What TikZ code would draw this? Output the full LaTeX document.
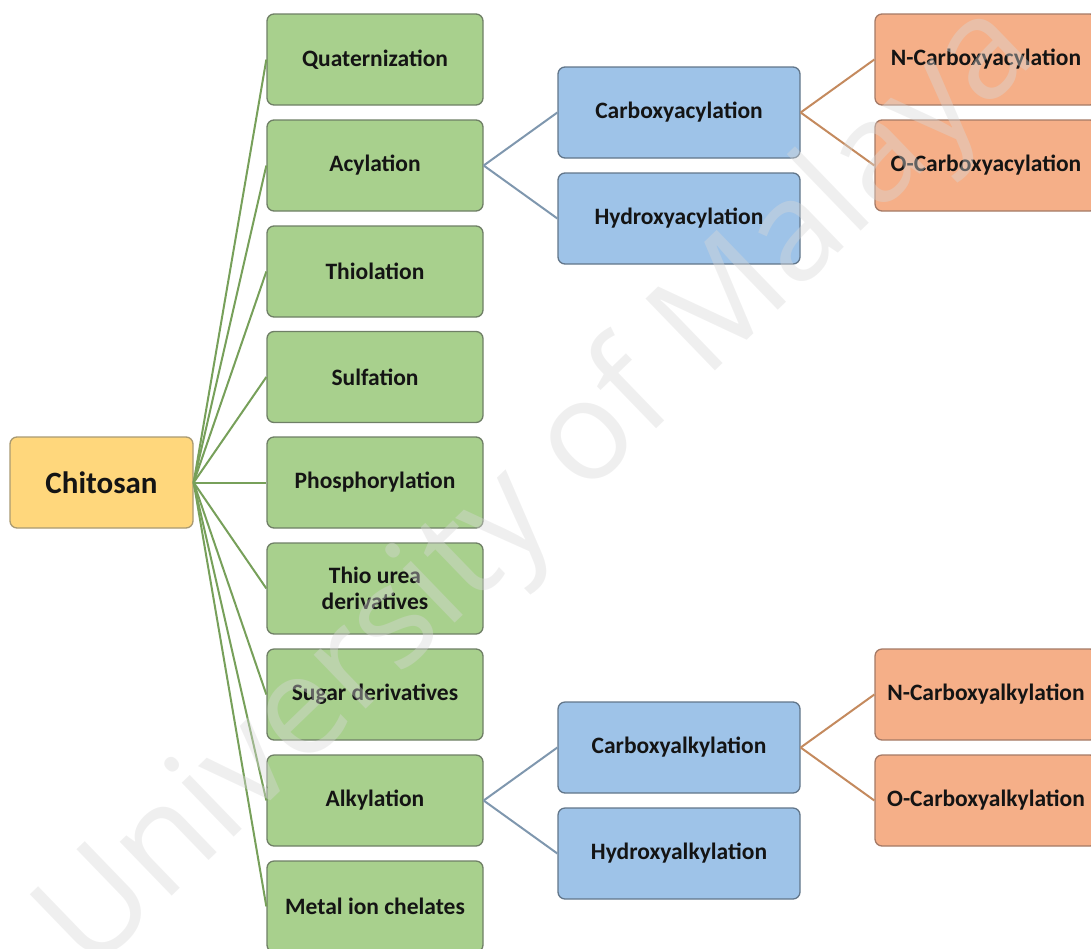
\documentclass[tikz,border=0pt]{standalone}
\usepackage{fontspec}
\setmainfont{Carlito}
\newfontfamily\wmfont{Open Sans}
\definecolor{gfill}{HTML}{A8D08D}
\definecolor{gdraw}{HTML}{6F7F66}
\definecolor{yfill}{HTML}{FFD77C}
\definecolor{ydraw}{HTML}{A99A72}
\definecolor{bfill}{HTML}{9EC3E8}
\definecolor{bdraw}{HTML}{62768A}
\definecolor{ofill}{HTML}{F5AF88}
\definecolor{odraw}{HTML}{A57A66}
\definecolor{gline}{HTML}{77A05A}
\definecolor{bline}{HTML}{7F97AE}
\definecolor{oline}{HTML}{C48A5E}
\definecolor{wmcol}{HTML}{D8D8D8}
\begin{document}
\begin{tikzpicture}[x=1pt,y=-1pt,
  box/.style={rectangle, rounded corners=7pt, line width=1.3pt, minimum height=91pt,
    align=center, inner sep=0pt, text=black!92,
    font=\fontsize{23.5}{25.5}\selectfont\bfseries},
  rootbox/.style={box, fill=yfill, draw=ydraw, minimum width=183pt,
    font=\fontsize{31}{34}\selectfont\bfseries},
  greenbox/.style={box, fill=gfill, draw=gdraw, minimum width=216pt},
  bluebox/.style={box, fill=bfill, draw=bdraw, minimum width=242pt},
  orangebox/.style={box, fill=ofill, draw=odraw, minimum width=222pt},
  gconn/.style={draw=gline, line width=2pt},
  bconn/.style={draw=bline, line width=2pt},
  oconn/.style={draw=oline, line width=2pt}
]
\useasboundingbox (0,0) rectangle (1091,948);
\clip (0,0) rectangle (1091,948);

\node[rootbox] (root) at (101.5,482.5) {Chitosan};

\node[greenbox] (g1) at (375,59.5) {Quaternization};
\node[greenbox] (g2) at (375,165.5) {Acylation};
\node[greenbox] (g3) at (375,271.5) {Thiolation};
\node[greenbox] (g4) at (375,377) {Sulfation};
\node[greenbox] (g5) at (375,482.5) {Phosphorylation};
\node[greenbox] (g6) at (375,588.5) {Thio urea\\derivatives};
\node[greenbox] (g7) at (375,694.5) {Sugar derivatives};
\node[greenbox] (g8) at (375,800.5) {Alkylation};
\node[greenbox] (g9) at (375,906.5) {Metal ion chelates};

\node[bluebox] (b1) at (679,112.5) {Carboxyacylation};
\node[bluebox] (b2) at (679,218.5) {Hydroxyacylation};
\node[bluebox] (b3) at (679,747.5) {Carboxyalkylation};
\node[bluebox] (b4) at (679,853.5) {Hydroxyalkylation};

\node[orangebox] (o1) at (986,59.5) {N-Carboxyacylation};
\node[orangebox] (o2) at (986,165.5) {O-Carboxyacylation};
\node[orangebox] (o3) at (986,694.5) {N-Carboxyalkylation};
\node[orangebox] (o4) at (986,800.5) {O-Carboxyalkylation};

\foreach \g in {g1,g2,g3,g4,g5,g6,g7,g8,g9}
  \draw[gconn] (root.east) -- (\g.west);
\draw[bconn] (g2.east) -- (b1.west);
\draw[bconn] (g2.east) -- (b2.west);
\draw[bconn] (g8.east) -- (b3.west);
\draw[bconn] (g8.east) -- (b4.west);
\draw[oconn] (b1.east) -- (o1.west);
\draw[oconn] (b1.east) -- (o2.west);
\draw[oconn] (b3.east) -- (o3.west);
\draw[oconn] (b3.east) -- (o4.west);

\node[rotate=44, text=wmcol, text opacity=0.4,
  font=\wmfont\fontsize{140}{140}\selectfont] (wm) at (540,490) {University of Malaya};
\end{tikzpicture}
\end{document}
